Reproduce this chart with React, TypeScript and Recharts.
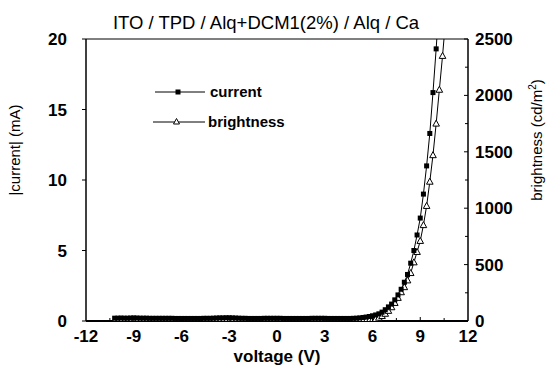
import { LineChart, Line, XAxis, YAxis, Legend, ReferenceLine } from 'recharts';

const FONT = '"Liberation Sans", Arial, sans-serif';

// voltages below turn-on (shared by both series)
const FLAT_VOLTAGE = [
  -10.2, -10.0, -9.8, -9.6, -9.4, -9.2, -9.0, -8.8, -8.6, -8.4, -8.2, -8.0, -7.8,
  -7.6, -7.4, -7.2, -7.0, -6.8, -6.6, -6.4, -6.2, -6.0, -5.8, -5.6, -5.4, -5.2,
  -5.0, -4.8, -4.6, -4.4, -4.2, -4.0, -3.8, -3.6, -3.4, -3.2, -3.0, -2.8, -2.6,
  -2.4, -2.2, -2.0, -1.8, -1.6, -1.4, -1.2, -1.0, -0.8, -0.6, -0.4, -0.2, 0,
  0.2, 0.4, 0.6, 0.8, 1.0, 1.2, 1.4, 1.6, 1.8, 2.0, 2.2, 2.4, 2.6, 2.8, 3.0,
  3.2, 3.4, 3.6, 3.8, 4.0, 4.2, 4.4, 4.6, 4.8,
];
const FLAT_CURRENT = [
  0.2, 0.2, 0.21, 0.2, 0.2, 0.21, 0.22, 0.21, 0.2, 0.2, 0.2, 0.19, 0.19,
  0.19, 0.19, 0.19, 0.19, 0.19, 0.19, 0.18, 0.18, 0.18, 0.18, 0.18, 0.18, 0.18,
  0.18, 0.18, 0.19, 0.19, 0.19, 0.2, 0.21, 0.22, 0.22, 0.23, 0.23, 0.22, 0.21,
  0.2, 0.19, 0.19, 0.18, 0.18, 0.18, 0.18, 0.18, 0.19, 0.19, 0.19, 0.19, 0.19,
  0.19, 0.18, 0.18, 0.18, 0.18, 0.18, 0.18, 0.18, 0.18, 0.18, 0.19, 0.19, 0.19,
  0.19, 0.19, 0.18, 0.18, 0.18, 0.18, 0.18, 0.18, 0.18, 0.18, 0.19,
];
const FLAT_BRIGHTNESS = [
  0, 0, 0, 0, 0, 0, 0, 0, 0, 0, 0, 0, 0, 0, 0, 0, 0, 0, 0, 0, 0, 0, 0, 0, 0, 0,
  0, 0, 0, 0, 0, 0, 0, 0, 0, 0, 0, 0, 0, 0, 0, 0, 0, 0, 0, 0, 0, 0, 0, 0, 0, 0,
  0, 0, 0, 0, 0, 0, 0, 0, 0, 0, 0, 0, 0, 0, 0, 0, 0, 0, 0, 0, 0, 0, 0, 0,
];

// rising part
const CURRENT_VOLTAGE = [
  5.0, 5.2, 5.4, 5.6, 5.8, 6.0, 6.2, 6.4, 6.6, 6.8, 7.0, 7.2, 7.4, 7.6, 7.8,
  8.0, 8.2, 8.4, 8.6, 8.8, 9.0, 9.2, 9.4, 9.6, 9.8, 10.0, 10.2,
];
const CURRENT = [
  0.2, 0.22, 0.25, 0.28, 0.32, 0.37, 0.43, 0.51, 0.63, 0.8, 1.0, 1.2, 1.5, 1.85,
  2.25, 2.75, 3.3, 4.1, 5.0, 6.1, 7.3, 9.0, 11.0, 13.3, 16.2, 19.3, 22.8,
];
const BRIGHTNESS_VOLTAGE = [
  5.0, 5.2, 5.4, 5.6, 5.8, 6.0, 6.2, 6.4, 6.6, 6.8, 7.0, 7.2, 7.4, 7.6, 7.8,
  8.0, 8.2, 8.4, 8.6, 8.8, 9.0, 9.2, 9.4, 9.6, 9.8, 10.0, 10.2, 10.4, 10.6,
];
const BRIGHTNESS = [
  0, 0, 1, 3, 6, 11, 18, 29, 44, 64, 90, 122, 160, 205, 255, 300, 360, 425, 520,
  612, 710, 850, 1020, 1235, 1470, 1750, 2050, 2350, 2680,
];

const X_TICKS = [-12, -10.5, -9, -7.5, -6, -4.5, -3, -1.5, 0, 1.5, 3, 4.5, 6, 7.5, 9, 10.5, 12];
const LEFT_TICKS = [0, 5, 10, 15, 20];
const RIGHT_TICKS = [0, 250, 500, 750, 1000, 1250, 1500, 1750, 2000, 2250, 2500];

const currentData = [
  ...FLAT_VOLTAGE.map((v, i) => ({ v, y: FLAT_CURRENT[i] })),
  ...CURRENT_VOLTAGE.map((v, i) => ({ v, y: CURRENT[i] })),
];
const brightnessData = [
  ...FLAT_VOLTAGE.map((v, i) => ({ v, y: FLAT_BRIGHTNESS[i] })),
  ...BRIGHTNESS_VOLTAGE.map((v, i) => ({ v, y: BRIGHTNESS[i] })),
];

const SquareDot = (props: any) => {
  const { cx, cy, index } = props;
  if (cx == null || cy == null) return <g key={`s-${index}`} />;
  return <rect key={`s-${index}`} x={cx - 2.5} y={cy - 2.5} width={5} height={5} fill="#000" />;
};

const TriangleDot = (props: any) => {
  const { cx, cy, index } = props;
  if (cx == null || cy == null) return <g key={`t-${index}`} />;
  return (
    <polygon
      key={`t-${index}`}
      points={`${cx},${cy - 3.5} ${cx - 3.3},${cy + 2.5} ${cx + 3.3},${cy + 2.5}`}
      fill="#fff"
      stroke="#000"
      strokeWidth={1}
    />
  );
};

const XTick = ({ x, y, payload }: any) => {
  const major = payload.value % 3 === 0;
  const edge = Math.abs(payload.value) === 12;
  return (
    <g>
      {!edge && <line x1={x} x2={x} y1={y} y2={y - (major ? 4 : 3)} stroke="#000" strokeWidth={1} />}
      {major && (
        <text x={x} y={y + 21} textAnchor="middle" fontFamily={FONT} fontWeight="bold" fontSize={17} fill="#000">
          {payload.value}
        </text>
      )}
    </g>
  );
};

const LeftTick = ({ x, y, payload }: any) => (
  <g>
    <line x1={x} x2={x - 4} y1={y} y2={y} stroke="#000" strokeWidth={1} />
    <text x={x - 19} y={y + 6} textAnchor="end" fontFamily={FONT} fontWeight="bold" fontSize={17} fill="#000">
      {payload.value}
    </text>
  </g>
);

const RightTick = ({ x, y, payload }: any) => {
  const major = payload.value % 500 === 0;
  return (
    <g>
      <line x1={x} x2={x - (major ? 4 : 3)} y1={y} y2={y} stroke="#000" strokeWidth={1} />
      {major && (
        <text x={x + 7} y={y + 6} textAnchor="start" fontFamily={FONT} fontWeight="bold" fontSize={17} fill="#000">
          {payload.value}
        </text>
      )}
    </g>
  );
};

const renderLegend = () => (
  <svg width={160} height={56}>
    <line x1={5} x2={55} y1={12} y2={12} stroke="#000" strokeWidth={1} />
    <rect x={25.5} y={9.5} width={5} height={5} fill="#000" />
    <text x={60} y={17} fontFamily={FONT} fontWeight="bold" fontSize={15} fill="#000">current</text>
    <line x1={3} x2={55} y1={42} y2={42} stroke="#000" strokeWidth={1} />
    <polygon points="26.5,38.5 23.5,44 29.5,44" fill="#fff" stroke="#000" strokeWidth={1} />
    <text x={58} y={47} fontFamily={FONT} fontWeight="bold" fontSize={15} fill="#000">brightness</text>
  </svg>
);

export default function App() {
  return (
    <div style={{ position: 'relative', width: 551, height: 367, background: '#fff' }}>
      <style>{'body { margin: 0; }'}</style>
      <div
        style={{
          position: 'absolute',
          left: 0,
          width: 532,
          top: 12,
          textAlign: 'center',
          fontFamily: FONT,
          fontSize: 18.5,
          color: '#000',
          zIndex: 2,
        }}
      >
        ITO / TPD / Alq+DCM1(2%) / Alq / Ca
      </div>
      <LineChart width={551} height={367} margin={{ top: 39, right: 0, bottom: 0, left: 0 }}>
        <XAxis
          type="number"
          dataKey="v"
          domain={[-12, 12]}
          ticks={X_TICKS}
          interval={0}
          height={46}
          tickSize={0}
          tickMargin={0}
          tickLine={false}
          tick={<XTick />}
          axisLine={{ stroke: '#000', strokeWidth: 2 }}
          allowDataOverflow
          label={{
            content: () => (
              <text x={277} y={362} textAnchor="middle" fontFamily={FONT} fontWeight="bold" fontSize={17} fill="#000">
                voltage (V)
              </text>
            ),
          }}
        />
        <YAxis
          yAxisId="left"
          domain={[0, 20]}
          ticks={LEFT_TICKS}
          interval={0}
          width={86}
          tickSize={0}
          tickMargin={0}
          tickLine={false}
          tick={<LeftTick />}
          axisLine={{ stroke: '#000', strokeWidth: 1.5 }}
          allowDataOverflow
          label={{
            content: () => (
              <text
                x={20}
                y={150}
                transform="rotate(-90 20 150)"
                textAnchor="middle"
                fontFamily={FONT}
                fontSize={15}
                fill="#000"
              >
                |current| (mA)
              </text>
            ),
          }}
        />
        <YAxis
          yAxisId="right"
          orientation="right"
          domain={[0, 2500]}
          ticks={RIGHT_TICKS}
          interval={0}
          width={83}
          tickSize={0}
          tickMargin={0}
          tickLine={false}
          tick={<RightTick />}
          axisLine={{ stroke: '#000', strokeWidth: 1.5 }}
          allowDataOverflow
          label={{
            content: () => (
              <text
                x={542}
                y={140}
                transform="rotate(-90 542 140)"
                textAnchor="middle"
                fontFamily={FONT}
                fontSize={15}
                fill="#000"
              >
                brightness (cd/m<tspan dy={-6} fontSize={10}>2</tspan>
                <tspan dy={6}>)</tspan>
              </text>
            ),
          }}
        />
        <ReferenceLine yAxisId="left" y={20} stroke="#000" strokeWidth={1} />
        <Legend
          layout="vertical"
          align="center"
          verticalAlign="middle"
          content={renderLegend}
          wrapperStyle={{ left: 150, top: 80, width: 160, height: 56 }}
        />
        <Line
          yAxisId="right"
          data={brightnessData}
          dataKey="y"
          name="brightness"
          stroke="#000"
          strokeWidth={1}
          dot={TriangleDot}
          activeDot={false}
          isAnimationActive={false}
        />
        <Line
          yAxisId="left"
          data={currentData}
          dataKey="y"
          name="current"
          stroke="#000"
          strokeWidth={1}
          dot={SquareDot}
          activeDot={false}
          isAnimationActive={false}
        />
      </LineChart>
    </div>
  );
}
